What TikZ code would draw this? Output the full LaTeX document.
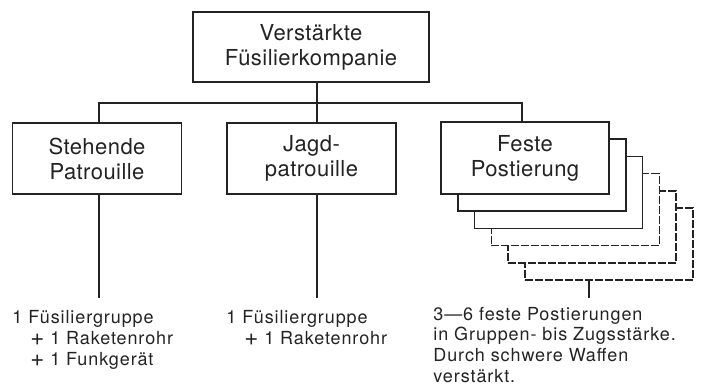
\documentclass[tikz,border=0pt]{standalone}
\usepackage{fontspec}
\setmainfont{TeX Gyre Heros}[LetterSpace=2]
\newfontfamily\notefont{TeX Gyre Heros}[LetterSpace=5]
\usetikzlibrary{calc}
\definecolor{inkgray}{RGB}{35,35,35}
\newcommand{\plusmark}{\smash{\raisebox{-0.5pt}{\fontsize{12}{10}\selectfont+}}}

\begin{document}
\begin{tikzpicture}[
  x=0.5pt, y=-0.5pt,
  unit/.style={
    rectangle, draw=inkgray, fill=white, line width=0.75pt,
    minimum width=84.5pt, minimum height=35.5pt, inner sep=0pt,
    align=center, font=\fontsize{11}{12.5}\selectfont, text=inkgray
  },
  stackbox/.style={unit, minimum width=84pt, minimum height=36pt},
  hidden/.style={dash pattern=on 4pt off 1pt},
  shown/.style={solid},
  line/.style={draw=inkgray, line width=0.75pt},
  note/.style={anchor=base west, align=left, inner sep=0pt,
    font=\notefont\fontsize{9}{10.4}\selectfont, text=inkgray}
]
\useasboundingbox (0,0) rectangle (702,385);

% Company
\node[unit, minimum width=118pt, minimum height=35pt] (komp) at (311,47)
  {Verstärkte\\Füsilierkompanie};

% Stacked positions (back to front)
\foreach \k/\ls in {5/hidden,4/hidden,3/hidden,2/shown,1/shown}
  \node[stackbox, \ls] (fp\k) at ({525+16.8*\k},{158+17.2*\k}) {};
\coordinate (t3) at (589,298);
\draw[line] (fp5.south -| t3) -- (t3);

% Sub units
\node[unit] (steh) at (97,158.5) {Stehende\\Patrouille};
\node[unit] (jagd) at (311.5,158.5) {Jagd-\\patrouille};
\node[stackbox] (fest) at (525,158) {Feste\\Postierung};

% Bus
\coordinate (b1) at (99,103);
\coordinate (b2) at (317,103);
\coordinate (b3) at (522,103);
\draw[line] (komp.south -| b2) -- (jagd.north -| b2);
\draw[line] (steh.north -| b1) -- (b1) -- (b3) -- (fest.north -| b3);

% Down lines
\coordinate (t1) at (99,298);
\coordinate (t2) at (317,298);
\draw[line] (steh.south -| t1) -- (t1);
\draw[line] (jagd.south -| t2) -- (t2);

% Notes (anchored at last baseline)
\node[note] (n1) at (12,365) {1 Füsiliergruppe\\\hspace*{9pt}\plusmark\ 1 Raketenrohr\\\hspace*{9pt}\plusmark\ 1 Funkgerät};
\node[note] (n2) at (226,344) {1 Füsiliergruppe\\\hspace*{9pt}\plusmark\ 1 Raketenrohr};
\node[note] (n3) at (433,382.5) {3—6 feste Postierungen\\in Gruppen- bis Zugsstärke.\\Durch schwere Waffen\\verstärkt.};

\end{tikzpicture}
\end{document}
